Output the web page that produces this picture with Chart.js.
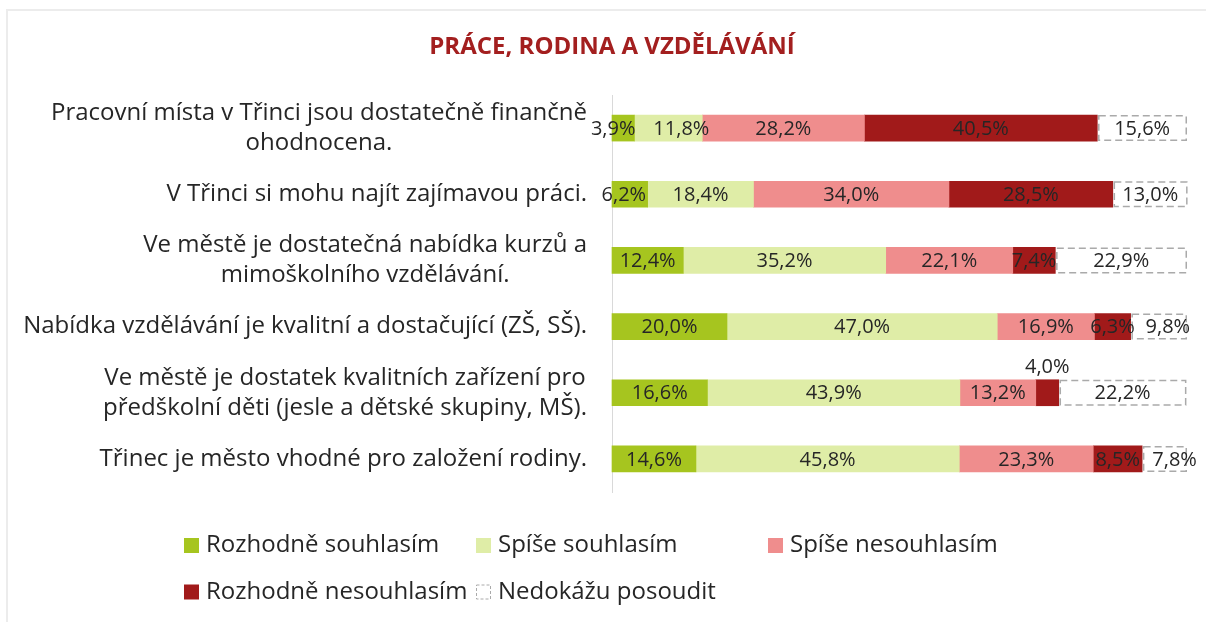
<!DOCTYPE html>
<html><head><meta charset="utf-8">
<script src="https://cdn.jsdelivr.net/npm/chart.js@4.4.1/dist/chart.umd.min.js"></script>
<style>
html,body{margin:0;padding:0;background:#fff;}
#wrap{position:relative;width:1206px;height:622px;overflow:hidden;background:#fff;}
#frame{position:absolute;left:6px;top:9px;width:1300px;height:700px;border-top:2px solid #ececec;border-left:2px solid #ececec;}
canvas{position:absolute;left:0;top:0;}
</style></head>
<body><div id="wrap"><div id="frame"></div><canvas id="c" width="1206" height="622"></canvas></div>
<script>
const chartTitle = 'PRÁCE, RODINA A VZDĚLÁVÁNÍ';
const categories = [
  ['Pracovní místa v Třinci jsou dostatečně finančně', 'ohodnocena.'],
  ['V Třinci si mohu najít zajímavou práci.'],
  ['Ve městě je dostatečná nabídka kurzů a', 'mimoškolního vzdělávání.'],
  ['Nabídka vzdělávání je kvalitní a dostačující (ZŠ, SŠ).'],
  ['Ve městě je dostatek kvalitních zařízení pro', 'předškolní děti (jesle a dětské skupiny, MŠ).'],
  ['Třinec je město vhodné pro založení rodiny.']
];
const seriesNames = ['Rozhodně souhlasím', 'Spíše souhlasím', 'Spíše nesouhlasím', 'Rozhodně nesouhlasím', 'Nedokážu posoudit'];
const rozhodneSouhlasim   = [3.9, 6.2, 12.4, 20.0, 16.6, 14.6];
const spiseSouhlasim      = [11.8, 18.4, 35.2, 47.0, 43.9, 45.8];
const spiseNesouhlasim    = [28.2, 34.0, 22.1, 16.9, 13.2, 23.3];
const rozhodneNesouhlasim = [40.5, 28.5, 7.4, 6.3, 4.0, 8.5];
const nedokazuPosoudit    = [15.6, 13.0, 22.9, 9.8, 22.2, 7.8];
// label placed above its bar (dataset index, category index)
const labelsAbove = [[3, 4]];
// horizontal label nudges (dataset index, category index, px)
const labelNudges = [[0, 0, -10], [1, 0, 13], [0, 1, -6], [4, 3, 9], [4, 5, 10]];

const colors = ['#a6c51f', '#dfeda7', '#ef8d8d', '#a11a1a', '#ffffff'];
const FONT = '"Open Sans", "Noto Sans", sans-serif';
const TEXT = '#262626';
const DASH_COLOR = '#aaaaaa';

const seriesValues = [rozhodneSouhlasim, spiseSouhlasim, spiseNesouhlasim, rozhodneNesouhlasim, nedokazuPosoudit];

const titlePlugin = {
  id: 'customTitle',
  afterDraw(chart) {
    const ctx = chart.ctx;
    ctx.save();
    ctx.font = 'bold 24px ' + FONT;
    ctx.fillStyle = '#a31f1f';
    ctx.textAlign = 'center';
    ctx.textBaseline = 'middle';
    ctx.fillText(chartTitle, 612, 47);
    ctx.restore();
  }
};

const categoryLabelPlugin = {
  id: 'catLabels',
  afterDraw(chart) {
    const ctx = chart.ctx, ys = chart.scales.y;
    ctx.save();
    ctx.font = '24px ' + FONT;
    ctx.fillStyle = TEXT;
    ctx.textAlign = 'center';
    ctx.textBaseline = 'middle';
    const right = chart.chartArea.left - 25;
    const lh = 30;
    chart.data.labels.forEach((lines, i) => {
      const yc = ys.getPixelForValue(i);
      const maxW = Math.max(...lines.map(l => ctx.measureText(l).width));
      const cx = right - maxW / 2;
      const y0 = yc - (lines.length - 1) * lh / 2;
      lines.forEach((l, k) => ctx.fillText(l, cx, y0 + k * lh));
    });
    ctx.restore();
  }
};

const barDecorPlugin = {
  id: 'barDecor',
  afterDatasetsDraw(chart) {
    const ctx = chart.ctx;
    ctx.save();
    // dashed outline for "Nedokážu posoudit"
    const metaN = chart.getDatasetMeta(4);
    ctx.strokeStyle = DASH_COLOR;
    ctx.lineWidth = 1.5;
    ctx.setLineDash([7, 4]);
    metaN.data.forEach(bar => {
      const p = bar.getProps(['x', 'y', 'base', 'height'], true);
      ctx.strokeRect(p.base + 1.5, p.y - p.height / 2 + 0.75, p.x - p.base - 2.25, p.height - 1.5);
    });
    ctx.setLineDash([]);
    // value labels
    ctx.font = '20px ' + FONT;
    ctx.fillStyle = TEXT;
    ctx.textAlign = 'center';
    ctx.textBaseline = 'middle';
    chart.data.datasets.forEach((ds, di) => {
      const meta = chart.getDatasetMeta(di);
      meta.data.forEach((bar, i) => {
        const p = bar.getProps(['x', 'y', 'base', 'height'], true);
        const txt = ds.data[i].toFixed(1).replace('.', ',') + '%';
        let y = p.y;
        if (labelsAbove.some(a => a[0] === di && a[1] === i)) y = p.y - p.height / 2 - 13;
        const n = labelNudges.find(a => a[0] === di && a[1] === i);
        const dx = n ? n[2] : 0;
        ctx.fillText(txt, (p.x + p.base) / 2 + dx, y + 1);
      });
    });
    ctx.restore();
  }
};

const legendPlugin = {
  id: 'gridLegend',
  afterDraw(chart) {
    const ctx = chart.ctx;
    const colX = [184, 476, 768];
    const rowY = [545.5, 592];
    ctx.save();
    ctx.font = '24px ' + FONT;
    ctx.textAlign = 'left';
    ctx.textBaseline = 'middle';
    chart.data.datasets.forEach((ds, i) => {
      const x = colX[i % 3], y = rowY[Math.floor(i / 3)];
      if (i === 4) {
        ctx.fillStyle = '#fff';
        ctx.fillRect(x, y - 7.5, 15, 15);
        ctx.strokeStyle = DASH_COLOR;
        ctx.lineWidth = 1;
        ctx.setLineDash([3, 2]);
        ctx.strokeRect(x + 0.5, y - 7, 14, 14);
        ctx.setLineDash([]);
      } else {
        ctx.fillStyle = ds.backgroundColor;
        ctx.fillRect(x, y - 7.5, 15, 15);
      }
      ctx.fillStyle = TEXT;
      ctx.fillText(ds.label, x + 22, y);
    });
    ctx.restore();
  }
};

new Chart(document.getElementById('c'), {
  type: 'bar',
  data: {
    labels: categories,
    datasets: seriesNames.map((name, i) => ({
      label: name,
      data: seriesValues[i],
      backgroundColor: colors[i],
      borderWidth: 0,
      barThickness: 26,
      clip: false
    }))
  },
  options: {
    indexAxis: 'y',
    responsive: false,
    animation: false,
    devicePixelRatio: 1,
    layout: { padding: { left: 0, right: 19, top: 95, bottom: 130 } },
    scales: {
      x: { stacked: true, min: 0, max: 100, display: false },
      y: {
        stacked: true,
        grid: { display: false, drawTicks: false },
        border: { display: true, color: '#d9d9d9', width: 1 },
        ticks: { display: false },
        afterFit(scale) { scale.width = 612; }
      }
    },
    plugins: { legend: { display: false }, title: { display: false }, tooltip: { enabled: false } }
  },
  plugins: [titlePlugin, categoryLabelPlugin, barDecorPlugin, legendPlugin]
});
</script>
</body></html>
